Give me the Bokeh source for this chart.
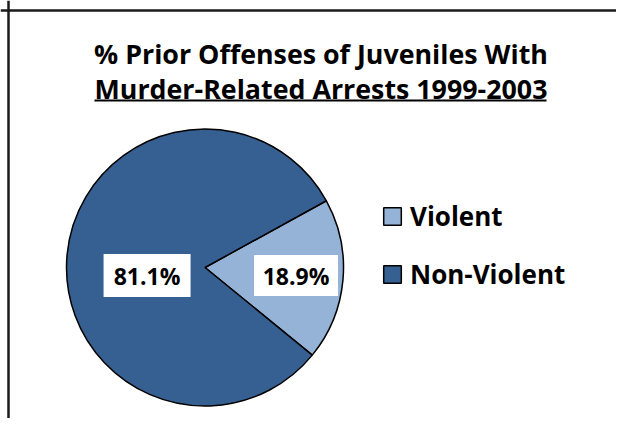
import math
from bokeh.plotting import figure
from bokeh.models import Range1d, Span, Legend, LegendItem, ColumnDataSource
from bokeh.core.properties import value
from bokeh.embed import file_html
from bokeh.resources import INLINE

# ---- data ----
categories = ["Violent", "Non-Violent"]
percents = [18.9, 81.1]
colors = ["#95B3D7", "#376092"]
title_lines = ["% Prior Offenses of Juveniles With", "Murder-Related Arrests 1999-2003"]

FONT_NAME = "Open Sans"
FONT = value(FONT_NAME)

p = figure(width=616, height=418, output_backend="svg", toolbar_location=None,
           x_range=Range1d(0, 616), y_range=Range1d(8, 426), min_border=0)
p.axis.visible = False
p.grid.visible = False
p.outline_line_color = None
p.background_fill_color = "white"
p.border_fill_color = "white"

# frame lines (top and left only are visible in the reference)
p.add_layout(Span(location=416, dimension="width", line_color="#1a1a1a", line_width=2.5))
p.add_layout(Span(location=8, dimension="height", line_color="#1a1a1a", line_width=2.5))

# title
p.text(x=[320.5, 320.5], y=[426 - 53, 426 - 87.5], text=title_lines, text_font=FONT,
       text_font_style="bold", text_font_size="26.8px", text_align="center",
       text_baseline="middle", text_color="black")
p.segment(x0=[94], y0=[426 - 100], x1=[546], y1=[426 - 100], line_color="black", line_width=2)

# pie
cx, cy, r = 204.5, 426 - 267, 138.5
first_cw = 61.2  # degrees clockwise from 12 o'clock
total = sum(percents)
starts, ends, mids = [], [], []
cum = 0.0
for v in percents:
    a0 = first_cw + cum / total * 360
    cum += v
    a1 = first_cw + cum / total * 360
    starts.append(math.radians(90 - a0))
    ends.append(math.radians(90 - a1))
    mids.append(math.radians(90 - (a0 + a1) / 2))

src = ColumnDataSource(dict(cat=categories, val=percents, color=colors,
                            start=starts, end=ends))
wr = p.wedge(x=cx, y=cy, radius=r, start_angle="start", end_angle="end",
             direction="clock", fill_color="color", line_color="black",
             line_width=1.5, source=src)

# data labels
fr = [0.66, 0.42]
lx = [cx + f * r * math.cos(m) for f, m in zip(fr, mids)]
ly = [cy - 8 for _ in mids]
labels = [f"{v:.1f}%" for v in percents]
p.rect(x=lx, y=ly, width=[84, 87], height=[41, 43], width_units="screen",
       height_units="screen", fill_color="white", line_color=None)
p.text(x=lx, y=ly, text=labels, text_font=FONT, text_font_style="bold",
       text_font_size="23px", text_align="center", text_baseline="middle",
       text_color="black")

# legend
items = [LegendItem(label=c, renderers=[wr], index=i) for i, c in enumerate(categories)]
legend = Legend(items=items, location=(381, 126), orientation="vertical",
                glyph_width=22, glyph_height=22, label_text_font=FONT_NAME,
                label_text_font_style="bold", label_text_font_size="26px",
                label_text_color="black",
                label_standoff=7, spacing=22, padding=0, margin=0,
                border_line_color=None, background_fill_alpha=0)
p.add_layout(legend, "center")

open("out.html", "w").write(file_html(p, INLINE))
